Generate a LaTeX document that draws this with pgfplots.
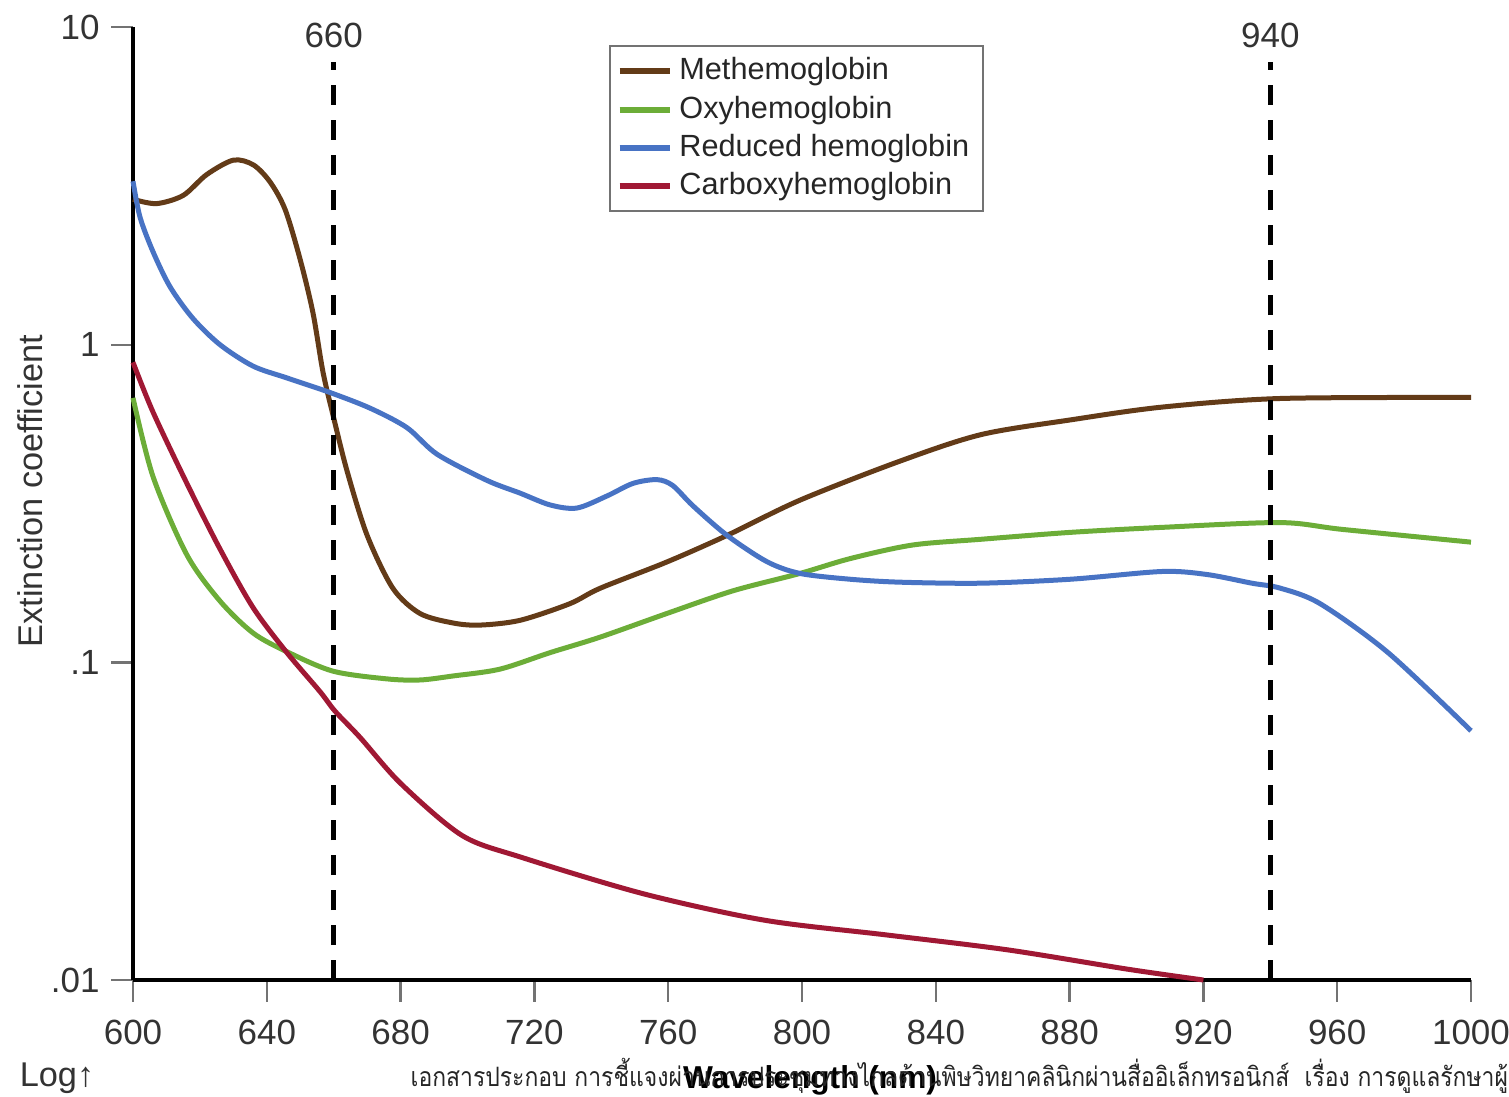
\documentclass[border=0pt]{standalone}
\usepackage{pgfplots}
\pgfplotsset{compat=1.18}
\usepackage{fontspec}
\setmainfont{Liberation Sans}
\newfontfamily\thaifont[Script=Thai,FakeStretch=0.86]{Loma}
\definecolor{cMet}{HTML}{633B18}
\definecolor{cOxy}{HTML}{6CAD38}
\definecolor{cRed}{HTML}{4873C4}
\definecolor{cCarb}{HTML}{A01834}
\begin{document}
\begin{tikzpicture}
\path[use as bounding box] (-39.9pt,-35.1pt) rectangle (412.8pt,294pt);
\begin{axis}[
  scale only axis, width=401.4pt, height=285.9pt,
  at={(0pt,0pt)}, anchor=south west,
  xmin=600, xmax=1000, ymin=0.01, ymax=10, ymode=log,
  axis x line*=bottom, axis y line*=left,
  axis line style={-, line width=1.4pt, black},
  tick align=outside, major tick length=6.5pt,
  tick style={black!55, line width=0.7pt},
  minor tick num=0, yminorticks=false,
  xtick={600,640,...,1000},
  ytick={0.01,0.1,1,10}, yticklabels={.01,.1,1,10},
  /pgf/number format/assume math mode=true,
  /pgf/number format/1000 sep={},
  tick label style={font=\fontsize{10.5}{12}\selectfont, text=black!80},
  xticklabel style={yshift=-2pt},
  every axis y label/.style={at={(axis description cs:-0.077,0.513)}, rotate=90, anchor=center, font=\fontsize{10.3}{12}\selectfont, text=black!80},
  ylabel={Extinction coefficient},
  every axis x label/.style={at={(axis description cs:0.506,-0.105)}, anchor=center, font=\bfseries\fontsize{9.5}{11}\selectfont},
  xlabel={Wavelength (nm)},
  clip=false,
  legend cell align=left,
  legend style={at={(rel axis cs:0.3558,0.981)}, anchor=north west, draw=black!55, line width=0.6pt,
    font=\fontsize{9.2}{11}\selectfont, text=black!85, inner xsep=2pt, inner ysep=1.5pt, row sep=-0.7pt},
  legend image code/.code={\draw[#1, line width=1.8pt] (0pt,0pt) -- (15pt,0pt);},
  every axis plot/.append style={line width=1.5pt, smooth, tension=0.5},
]
\addplot[cMet] coordinates {(600,2.87)(607,2.78)(615,2.95)(622,3.43)(630,3.81)(636,3.68)(641,3.25)(645.5,2.66)(650,1.85)(653.8,1.26)(656.8,0.82)(659.8,0.60)(664,0.40)(670,0.251)(677.7,0.171)(685.8,0.1425)(695.7,0.133)(703.7,0.131)(715.7,0.1356)(730.6,0.153)(739.6,0.171)(759.6,0.207)(777.6,0.251)(799.4,0.324)(829.3,0.430)(853.5,0.521)(880.4,0.580)(907.6,0.636)(942.9,0.677)(1000,0.682)};
\addlegendentry{Methemoglobin}
\addplot[cOxy] coordinates {(600,0.68)(606,0.384)(616.1,0.218)(626,0.156)(635.9,0.1237)(646,0.108)(659.8,0.0938)(675.9,0.0887)(685.8,0.088)(695.7,0.0906)(709.7,0.0952)(724.7,0.1073)(739.6,0.120)(759.6,0.1425)(779.4,0.168)(799.4,0.1905)(814.3,0.212)(833,0.234)(853.5,0.244)(880.4,0.2566)(907.6,0.266)(942.9,0.2754)(961.7,0.262)(1000,0.239)};
\addlegendentry{Oxyhemoglobin}
\addplot[cRed] coordinates {(600,3.27)(602.1,2.52)(606,1.96)(611.1,1.52)(617.9,1.21)(626,1.0)(635.9,0.856)(646,0.786)(658.9,0.707)(670.9,0.631)(681.9,0.548)(690.9,0.452)(705.8,0.374)(715.7,0.341)(724.7,0.313)(732.7,0.306)(741.7,0.334)(749.5,0.366)(756.7,0.376)(761.4,0.360)(767.4,0.311)(777.6,0.251)(789.5,0.2075)(799.4,0.1905)(814.3,0.1827)(829.3,0.1788)(853.5,0.1775)(880.4,0.1827)(907.6,0.1932)(921.1,0.189)(934.5,0.1775)(942.9,0.1713)(954.9,0.153)(975.2,0.1073)(1000,0.0609)};
\addlegendentry{Reduced hemoglobin}
\addplot[cCarb] coordinates {(600,0.880)(606,0.613)(616.1,0.366)(626,0.2275)(635.9,0.1487)(646,0.1073)(655.9,0.0809)(660.4,0.0702)(667.9,0.058)(680.1,0.0415)(698.4,0.0285)(716.3,0.0243)(752.8,0.01866)(788.9,0.01542)(825.1,0.01387)(861.3,0.01245)(897.5,0.01081)(920,0.0100)};
\addlegendentry{Carboxyhemoglobin}
\draw[black, line width=1.5pt, dash pattern=on 6pt off 4.5pt] (axis cs:660,0.01) -- (axis cs:660,7.74);
\draw[black, line width=1.5pt, dash pattern=on 6pt off 4.5pt] (axis cs:940,0.01) -- (axis cs:940,7.74);
\node[font=\fontsize{10.5}{12}\selectfont, text=black!80] at (axis cs:660,9.44) {660};
\node[font=\fontsize{10.5}{12}\selectfont, text=black!80] at (axis cs:940,9.44) {940};
\end{axis}
\node[font=\fontsize{10.3}{12}\selectfont, text=black!80] at (-22.8pt,-29.4pt) {Log↑};
\node[anchor=base west, inner sep=0pt, font=\thaifont\fontsize{8}{9.5}\selectfont, text=black!85] at (83.1pt,-32.1pt) {เอกสารประกอบ การชี้แจงผ่านการประชุมทางไกลด้านพิษวิทยาคลินิกผ่านสื่ออิเล็กทรอนิกส์ \ เรื่อง การดูแลรักษาผู้ป่วย};
\end{tikzpicture}
\end{document}
